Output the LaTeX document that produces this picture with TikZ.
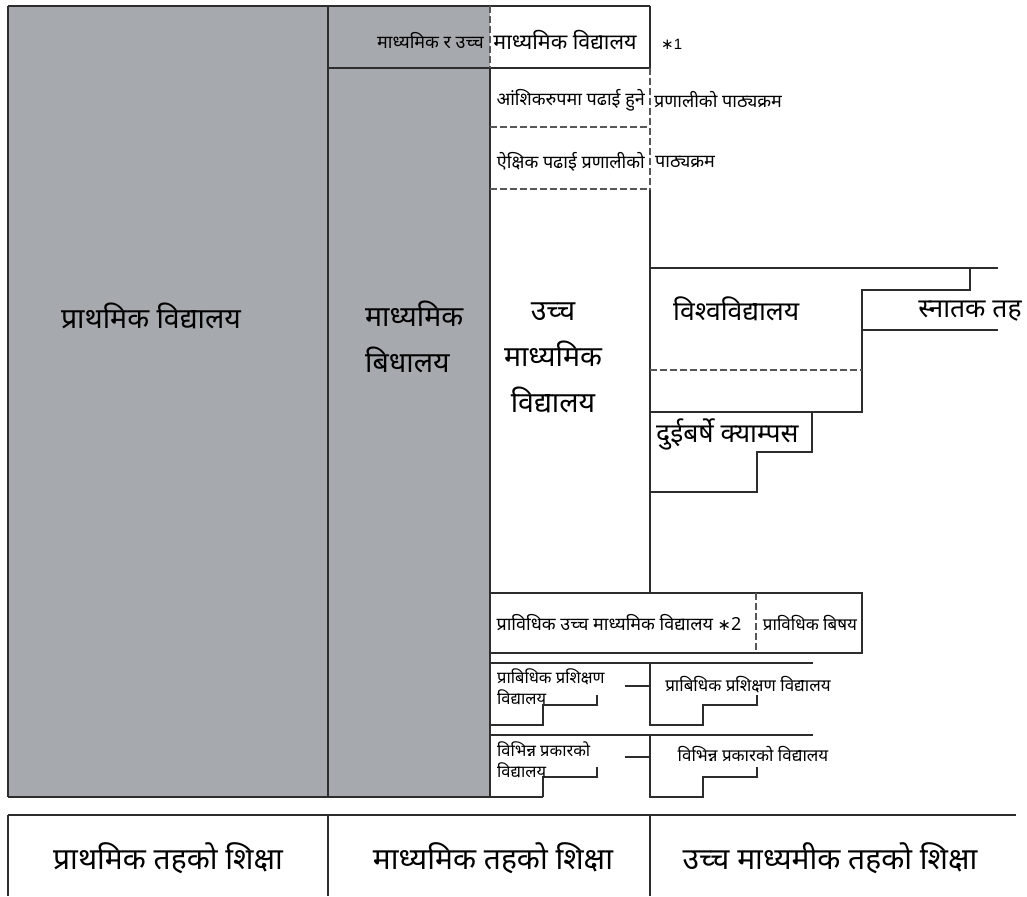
\documentclass[tikz,border=0pt]{standalone}
\usepackage{fontspec}
\setmainfont{Liberation Sans}
\newfontfamily\deva[Script=Devanagari]{Noto Sans}
\newfontfamily\djv{DejaVu Sans}
\definecolor{panelgray}{RGB}{166,169,173}
\definecolor{ink}{RGB}{45,45,45}
\begin{document}
\begin{tikzpicture}[x=1pt,y=-1pt,
  ln/.style={draw=ink,line width=1.8pt},
  thin/.style={draw=ink,line width=1.1pt},
  dsh/.style={draw=ink!80,line width=1.6pt,dash pattern=on 7pt off 3pt},
  big/.style={font=\deva\fontsize{28.5}{46}\selectfont,inner sep=0pt},
  uni/.style={font=\deva\fontsize{26.5}{40}\selectfont,inner sep=0pt},
  bot/.style={font=\deva\fontsize{30}{40}\selectfont,inner sep=0pt},
  mid/.style={font=\deva\fontsize{18}{22}\selectfont,inner sep=0pt},
  low/.style={font=\deva\fontsize{17}{22}\selectfont,inner sep=0pt},
  sml/.style={font=\deva\fontsize{16.5}{21}\selectfont,inner sep=0pt}]
\useasboundingbox (0,0) rectangle (1027,896);
\fill[white] (0,0) rectangle (1027,896);
% gray panel
\fill[panelgray] (8,6) rectangle (490,797);
% main frame lines
\draw[ln] (8,6) -- (650,6);
\draw[ln] (8,6) -- (8,797);
\draw[ln] (328,6) -- (328,797);
\draw[ln] (328,68) -- (650,68);
\draw[dsh] (490,6) -- (490,68);
\draw[thin] (490,68) -- (490,797);
\draw[ln] (650,6) -- (650,68);
\draw[dsh] (650,68) -- (650,190);
\draw[ln] (650,190) -- (650,593);
\draw[dsh] (490,127) -- (650,127);
\draw[dsh] (490,189) -- (650,189);
% university / graduate
\draw[ln] (650,268) -- (998,268);
\draw[ln] (970,268) -- (970,290) -- (862,290) -- (862,412) -- (650,412);
\draw[ln] (862,330) -- (998,330);
\draw[dsh] (650,370) -- (862,370);
% two-year campus
\draw[ln] (650,412) -- (812,412) -- (812,452) -- (757,452) -- (757,492) -- (650,492);
% technical higher secondary box
\draw[ln] (490,593) rectangle (862,653);
\draw[dsh] (756,593) -- (756,653);
% training school group
\draw[ln] (490,663) -- (813,663);
\draw[ln] (625,686) -- (650,686);
\draw[ln] (650,663) -- (650,725) -- (703,725) -- (703,705) -- (757,705) -- (757,695);
\draw[ln] (490,725) -- (543,725) -- (543,705) -- (597,705) -- (597,695);
% various schools group
\draw[ln] (490,735) -- (813,735);
\draw[ln] (625,757) -- (650,757);
\draw[ln] (650,735) -- (650,797) -- (703,797) -- (703,777) -- (757,777) -- (757,767);
\draw[ln] (543,797) -- (543,777) -- (597,777) -- (597,767);
\draw[ln] (8,797) -- (543,797);
% bottom table
\draw[ln] (8,815) -- (1016,815);
\draw[ln] (8,815) -- (8,896);
\draw[ln] (328,815) -- (328,896);
\draw[ln] (650,815) -- (650,896);
% texts
\node[big] (prim) at (151,316) {प्राथमिक विद्यालय};
\node[big,align=left,anchor=west] (sec) at (365,337) {माध्यमिक\\बिधालय};
\node[big,align=center] (hsec) at (553,358) {उच्च\\माध्यमिक\\विद्यालय};
\node[mid,anchor=east] (mru) at (484,41) {माध्यमिक र उच्च};
\node[font=\deva\fontsize{21.5}{26}\selectfont,inner sep=0pt] (mv) at (565,40) {माध्यमिक विद्यालय};
\node[font=\fontsize{15}{18}\selectfont,anchor=west,inner sep=0pt] (n1) at (661,44) {{\djv ∗}1};
\node[mid,anchor=east] (ansh) at (645,100) {आंशिकरुपमा पढाई हुने};
\node[mid,anchor=west] (pran) at (654,100) {प्रणालीको पाठ्यक्रम};
\node[mid,anchor=east] (aik) at (645,162) {ऐक्षिक पढाई प्रणालीको};
\node[mid,anchor=west] (path) at (655,162) {पाठ्यक्रम};
\node[uni,anchor=west] (univ) at (673,309) {विश्वविद्यालय};
\node[uni] (grad) at (970,311) {स्नातक तह};
\node[uni,anchor=west] (camp) at (656,434) {दुईबर्षे क्याम्पस};
\node[mid] (tech) at (619,623) {प्राविधिक उच्च माध्यमिक विद्यालय {\djv\fontsize{16}{20}\selectfont ∗}2};
\node[low] (tsub) at (810,623) {प्राविधिक बिषय};
\node[sml,anchor=west,align=left] (tr1) at (497,687) {प्राबिधिक प्रशिक्षण\\विद्यालय};
\node[low] (tr2) at (748,685) {प्राबिधिक प्रशिक्षण विद्यालय};
\node[sml,anchor=west,align=left] (vs1) at (497,760) {विभिन्न प्रकारको\\विद्यालय};
\node[low] (vs2) at (753,754) {विभिन्न प्रकारको विद्यालय};
\node[bot] (b1) at (168,858) {प्राथमिक तहको शिक्षा};
\node[bot] (b2) at (493,858) {माध्यमिक तहको शिक्षा};
\node[bot] (b3) at (830,858) {उच्च माध्यमीक तहको शिक्षा};
\end{tikzpicture}
\end{document}
